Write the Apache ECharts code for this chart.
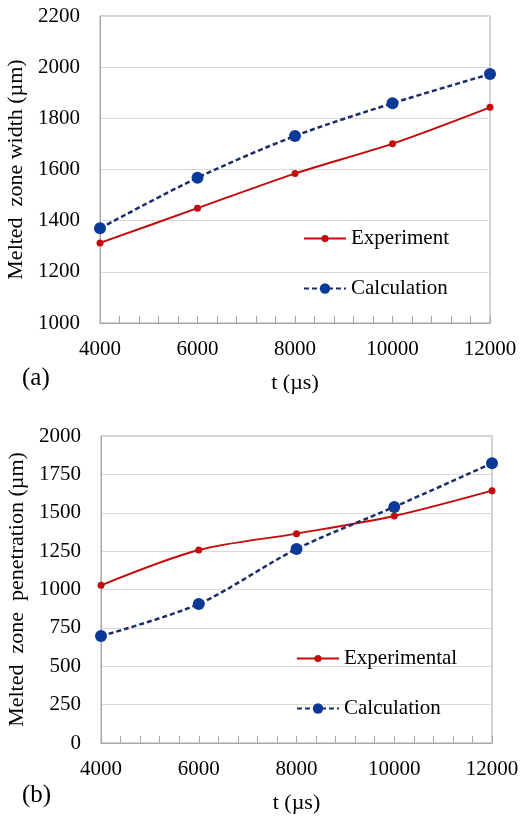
<!DOCTYPE html>
<html>
<head>
<meta charset="utf-8">
<script src="https://cdn.jsdelivr.net/npm/echarts@6/dist/echarts.min.js"></script>
<style>
  html, body { margin: 0; padding: 0; background: #fff; }
  #chart { width: 530px; height: 817px; }
</style>
</head>
<body>
<div id="chart"></div>
<script>
// pulse duration (µs)
const tValues = [4000, 6000, 8000, 10000, 12000];
// (a) melted zone width (µm)
const widthExperiment = [1313, 1449, 1584, 1701, 1843];
const widthCalculation = [1370, 1568, 1731, 1859, 1973];
// (b) melted zone penetration (µm)
const penExperimental = [1027, 1257, 1364, 1479, 1644];
const penCalculation = [697, 906, 1264, 1538, 1822];

const FONT = 'Liberation Serif';
const RED = '#c40a0a';
const NAVY = '#1a2d6a';
const BLUE = '#0a3a98';

const pairs = arr => tValues.map((t, i) => [t, arr[i]]);
const plain = v => String(v);

const xAxisBase = {
    type: 'value',
    min: 4000,
    max: 12000,
    interval: 2000,
    name: 't (µs)',
    nameLocation: 'middle',
    nameGap: 49,
    nameTextStyle: { fontFamily: FONT, fontSize: 22, color: '#000' },
    axisLine: { show: true, lineStyle: { color: '#a6a6a6', width: 1 } },
    axisTick: { show: true, inside: true, length: 7, lineStyle: { color: '#a6a6a6' } },
    minorTick: { show: true, splitNumber: 5, length: 7, lineStyle: { color: '#a6a6a6' } },
    splitLine: { show: false },
    axisLabel: { fontFamily: FONT, fontSize: 21, color: '#000', margin: 16, formatter: plain }
};

const yAxisBase = {
    type: 'value',
    nameLocation: 'middle',
    nameRotate: 90,
    nameGap: 64,
    nameTextStyle: { fontFamily: FONT, fontSize: 22, color: '#000' },
    axisLine: { show: true, lineStyle: { color: '#a6a6a6', width: 1 } },
    axisTick: { show: false },
    splitLine: { show: true, lineStyle: { color: '#d9d9d9', width: 1 } },
    axisLabel: { fontFamily: FONT, fontSize: 21, color: '#000', margin: 20, formatter: plain }
};

const expStyle = {
    type: 'line',
    smooth: 0.3,
    symbol: 'circle',
    symbolSize: 7,
    lineStyle: { color: RED, width: 2 },
    itemStyle: { color: RED }
};

const calcStyle = {
    type: 'line',
    smooth: 0.3,
    symbol: 'circle',
    symbolSize: 12,
    lineStyle: { color: NAVY, width: 2.5, type: [5, 3] },
    itemStyle: { color: BLUE }
};

// one legend box per entry so the marker sizes can differ
const legendItem = (name, left, top, h) => ({
    left, top,
    padding: 0,
    itemWidth: 42,
    itemHeight: h,
    data: [name],
    textStyle: { fontFamily: FONT, fontSize: 21, color: '#000' }
});

const chart = echarts.init(document.getElementById('chart'));
chart.setOption({
    animation: false,
    grid: [
        { left: 100, top: 16, width: 390, height: 307, outerBoundsMode: 'none', show: true, borderColor: '#a6a6a6', borderWidth: 1 },
        { left: 101, top: 436, width: 391, height: 307, outerBoundsMode: 'none', show: true, borderColor: '#a6a6a6', borderWidth: 1 }
    ],
    xAxis: [
        Object.assign({}, xAxisBase, { gridIndex: 0 }),
        Object.assign({}, xAxisBase, { gridIndex: 1 })
    ],
    yAxis: [
        Object.assign({}, yAxisBase, {
            gridIndex: 0, min: 1000, max: 2200, interval: 200,
            name: 'Melted  zone width (µm)'
        }),
        Object.assign({}, yAxisBase, {
            gridIndex: 1, min: 0, max: 2000, interval: 250,
            name: 'Melted  zone  penetration (µm)'
        })
    ],
    legend: [
        legendItem('Experiment', 303, 228, 9),
        legendItem('Calculation', 303, 278, 13),
        legendItem('Experimental', 296, 648, 9),
        legendItem('Calculation', 296, 698, 13)
    ],
    series: [
        Object.assign({}, expStyle, { name: 'Experiment', xAxisIndex: 0, yAxisIndex: 0, data: pairs(widthExperiment) }),
        Object.assign({}, calcStyle, { name: 'Calculation', xAxisIndex: 0, yAxisIndex: 0, data: pairs(widthCalculation) }),
        Object.assign({}, expStyle, { name: 'Experimental', xAxisIndex: 1, yAxisIndex: 1, data: pairs(penExperimental) }),
        Object.assign({}, calcStyle, { name: 'Calculation', xAxisIndex: 1, yAxisIndex: 1, data: pairs(penCalculation) })
    ],
    graphic: [
        { type: 'text', left: 22, top: 366, style: { text: '(a)', font: '25px "Liberation Serif"', fill: '#000' } },
        { type: 'text', left: 22, top: 783, style: { text: '(b)', font: '25px "Liberation Serif"', fill: '#000' } }
    ]
});
</script>
</body>
</html>
